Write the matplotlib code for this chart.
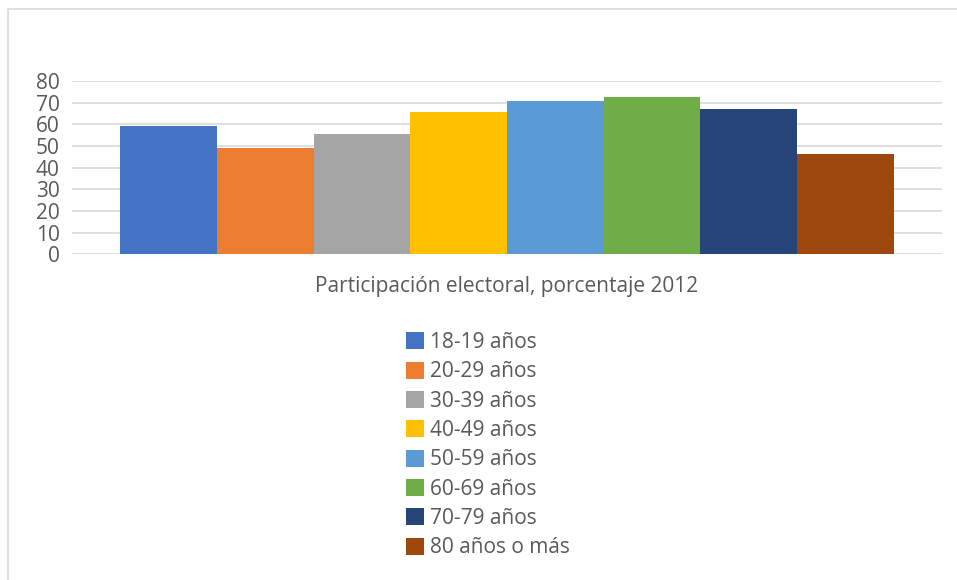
import matplotlib
matplotlib.use("Agg")
import matplotlib.pyplot as plt
from matplotlib.lines import Line2D
import numpy as np

plt.rcParams['font.family'] = ['Open Sans', 'DejaVu Sans']

# --- data ---
CATEGORY = "Participación electoral, porcentaje 2012"
SERIES = ["18-19 años", "20-29 años", "30-39 años", "40-49 años",
          "50-59 años", "60-69 años", "70-79 años", "80 años o más"]
VALUES = [59.3, 49.2, 55.7, 65.5, 70.9, 72.6, 67.2, 46.1]
COLORS = ["#4472C4", "#ED7D31", "#A5A5A5", "#FFC000",
          "#5B9BD5", "#70AD47", "#264478", "#9E480E"]
YTICKS = [0, 10, 20, 30, 40, 50, 60, 70, 80]

TEXT = "#595959"
GRID = "#D9D9D9"

W, H = 957, 580
fig = plt.figure(figsize=(W / 100, H / 100), dpi=100)
ax = fig.add_axes([72 / W, 1 - 254.3 / H, 870 / W, 173.3 / H])

x = np.arange(len(VALUES))
bars = []
for i, (v, c, lab) in enumerate(zip(VALUES, COLORS, SERIES)):
    bars.append(ax.bar(x[i], v, width=1.0, color=c, label=lab, zorder=2))

ax.set_xlim(-1, len(VALUES))
ax.set_ylim(0, 80)
ax.set_yticks(YTICKS)
ax.set_xticks([(len(VALUES) - 1) / 2])
ax.set_xticklabels([CATEGORY])
ax.yaxis.grid(True, color=GRID, lw=1.2, zorder=0)
ax.set_axisbelow(True)
for s in ax.spines.values():
    s.set_visible(False)
ax.tick_params(axis="y", length=0, pad=9, labelsize=15, labelcolor=TEXT)
ax.tick_params(axis="x", length=0, pad=15.5, labelsize=15, labelcolor=TEXT)

leg = fig.legend(handles=[b[0] for b in bars], labels=SERIES,
                 loc="upper left", bbox_to_anchor=(406 / W, 1 - 332 / H),
                 frameon=False, fontsize=15, labelcolor=TEXT,
                 handlelength=0.87, handleheight=0.87, handletextpad=0.3,
                 labelspacing=0.4, borderaxespad=0, borderpad=0)

# chart-area border (top and left edges visible)
fig.add_artist(Line2D([8 / W, 8 / W, 1], [0, 1 - 9 / H, 1 - 9 / H],
                      transform=fig.transFigure, color=GRID, lw=1.2))

fig.savefig("out.png", dpi=100, facecolor="white")
